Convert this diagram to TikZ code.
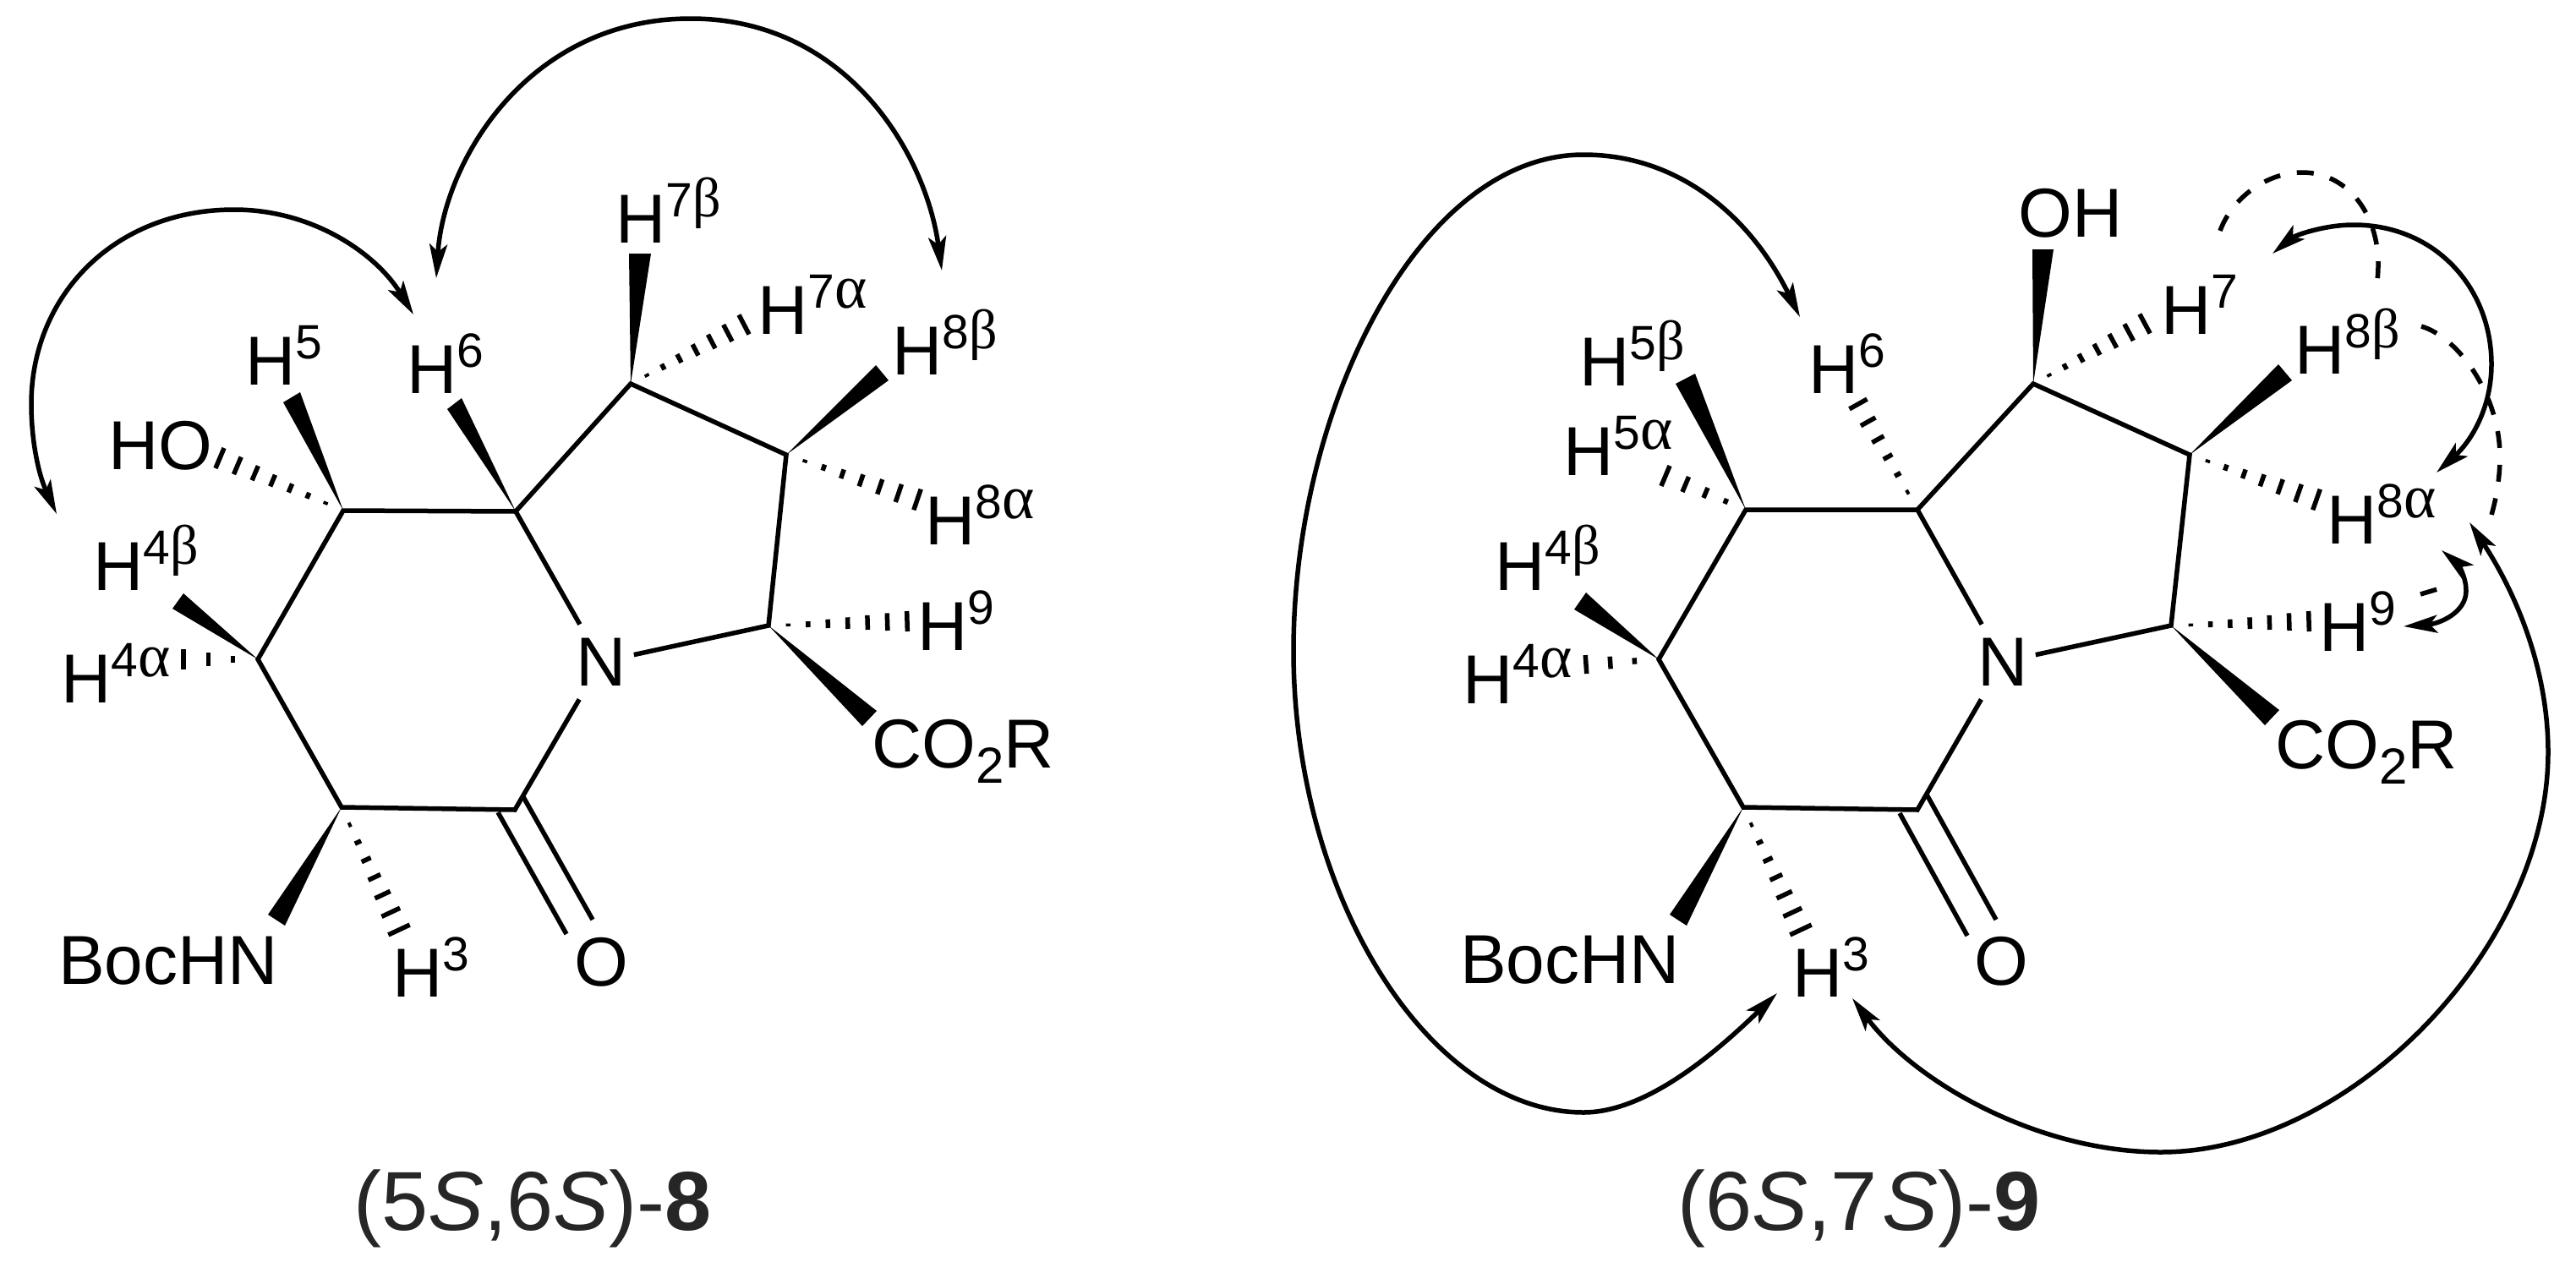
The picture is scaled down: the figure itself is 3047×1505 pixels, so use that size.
\documentclass[tikz,border=0pt]{standalone}
\usepackage{fontspec}
\setmainfont{Liberation Sans}
\newfontfamily\greekfont{Liberation Serif}
\usetikzlibrary{arrows.meta,calc}

% Подписи атомов
\newcommand{\Hsup}[1]{H\raisebox{31pt}{\fontsize{57}{57}\selectfont #1}}
\newcommand{\Hbeta}[1]{H\raisebox{31pt}{\fontsize{57}{57}\selectfont #1{\greekfont\fontsize{66}{66}\selectfont β}}}
\newcommand{\Halpha}[1]{H\raisebox{31pt}{\fontsize{57}{57}\selectfont #1{\greekfont\fontsize{73}{73}\selectfont α}}}
\newcommand{\COR}{CO\raisebox{-18pt}{\fontsize{60}{60}\selectfont 2}R}

% Клиновидная и штриховая связи
\newcommand{\wedgebond}[3]{\fill (#1) -- (#2) -- (#3) -- cycle;}
\newcommand{\hashbond}[4]{%
    \coordinate (hl) at ($(#2)!#3 pt!90:(#1)$);
    \coordinate (hr) at ($(#2)!#3 pt!-90:(#1)$);
    \foreach \i in {1,...,#4}{%
        \pgfmathsetmacro{\hpos}{\i/#4}
        \draw[hash] ($(#1)!\hpos!(hl)$) -- ($(#1)!\hpos!(hr)$);
    }}

\tikzset{
    bond/.style={line width=5.5pt},
    hash/.style={line width=5.5pt},
    lab/.style={inner sep=0pt,anchor=base west,font=\fontsize{82}{82}\selectfont},
    atomN/.style={inner xsep=9pt,inner ysep=16pt,font=\fontsize{82}{82}\selectfont},
    caption/.style={inner sep=0pt,anchor=base west,text=black!85,font=\fontsize{99}{99}\selectfont},
    noe/.style={line width=5.5pt,{Stealth[length=40pt,width=21pt,inset=9pt]}-{Stealth[length=40pt,width=21pt,inset=9pt]}},
    noedash/.style={line width=5.5pt,dash pattern=on 20pt off 20pt}
}

\begin{document}
\begin{tikzpicture}[x=1pt,y=-1pt]
    \useasboundingbox (0,0) rectangle (3047,1505);

    % Соединение 8
    \coordinate (A2) at (609,958);
    \coordinate (A3) at (404,955);
    \coordinate (A4) at (305,780);
    \coordinate (A5) at (406,604);
    \coordinate (A6) at (610,605);
    \coordinate (A7) at (746,454);
    \coordinate (A8) at (930,538);
    \coordinate (A9) at (909,740);
    \node[atomN] (NA) at (711,783) {N};

    \node[lab] (H7bA) at (728,287) {\Hbeta{7}};
    \node[lab] (H7aA) at (896,395) {\Halpha{7}};
    \node[lab] (H8bA) at (1055,443) {\Hbeta{8}};
    \node[lab] (H8aA) at (1094,644) {\Halpha{8}};
    \node[lab] (H5A) at (290,455) {\Hsup{5}};
    \node[lab] (H6A) at (481,465) {\Hsup{6}};
    \node[lab] (HOA) at (128,555) {HO};
    \node[lab] (H4bA) at (110,698) {\Hbeta{4}};
    \node[lab] (H4aA) at (72,831) {\Halpha{4}};
    \node[lab] (H9A) at (1085,769) {\Hsup{9}};
    \node[lab] (CORA) at (1031,908) {\COR};
    \node[lab] (BocA) at (69,1164) {BocHN};
    \node[lab] (H3A) at (464,1179) {\Hsup{3}};
    \node[lab] (OA) at (679,1166) {O};
    \node[caption] (capA) at (418,1455) {(5\textit{S},6\textit{S})-\textbf{8}};

    % Линии
    \draw[bond] (NA) -- (A2) -- (A3) -- (A4) -- (A5) -- (A6) -- (NA);
    \draw[bond] (A6) -- (A7) -- (A8) -- (A9) -- (NA);
    \coordinate (dA1) at (618,941);
    \coordinate (dA2) at (701,1088);
    \coordinate (dA3) at (589,961);
    \coordinate (dA4) at (670,1105);
    \draw[bond] (dA1) -- (dA2);
    \draw[bond] (dA3) -- (dA4);

    \coordinate (w1a) at (744,300);
    \coordinate (w1b) at (770,300);
    \wedgebond{A7}{w1a}{w1b}
    \coordinate (w2a) at (1036,432);
    \coordinate (w2b) at (1051,450);
    \wedgebond{A8}{w2a}{w2b}
    \coordinate (w3a) at (546,471);
    \coordinate (w3b) at (529,484);
    \wedgebond{A6}{w3a}{w3b}
    \coordinate (w4a) at (355,464);
    \coordinate (w4b) at (335,476);
    \wedgebond{A5}{w4a}{w4b}
    \coordinate (w5a) at (217,702);
    \coordinate (w5b) at (204,720);
    \wedgebond{A4}{w5a}{w5b}
    \coordinate (w6a) at (1037,841);
    \coordinate (w6b) at (1020,859);
    \wedgebond{A9}{w6a}{w6b}
    \coordinate (w7a) at (317,1082);
    \coordinate (w7b) at (337,1095);
    \wedgebond{A3}{w7a}{w7b}

    \coordinate (h1) at (880,384);
    \hashbond{A7}{h1}{13}{7}
    \coordinate (h2) at (1085,591);
    \hashbond{A8}{h2}{13}{7}
    \coordinate (h3) at (1073,735);
    \hashbond{A9}{h3}{12}{7}
    \coordinate (h4) at (260,542);
    \hashbond{A5}{h4}{13}{7}
    \coordinate (h5) at (217,780);
    \hashbond{A4}{h5}{12}{3}
    \coordinate (h6) at (472,1100);
    \hashbond{A3}{h6}{14}{7}

    % Стрелки
    \coordinate (a1s) at (67,608);
    \coordinate (a1e) at (489,372);
    \draw[noe] (a1s) .. controls (45,560) and (37,520) .. (37,478)
        .. controls (37,350) and (135,248) .. (277,248)
        .. controls (370,248) and (445,300) .. (a1e);
    \coordinate (a2s) at (516,329);
    \coordinate (a2e) at (1114,320);
    \draw[noe] (a2s) .. controls (525,190) and (625,22) .. (817,22)
        .. controls (1000,22) and (1095,180) .. (a2e);

    % Соединение 9
    \coordinate (B2) at (2268,958);
    \coordinate (B3) at (2062,955);
    \coordinate (B4) at (1962,780);
    \coordinate (B5) at (2065,603);
    \coordinate (B6) at (2268,603);
    \coordinate (B7) at (2405,454);
    \coordinate (B8) at (2590,538);
    \coordinate (B9) at (2568,740);
    \node[atomN] (NB) at (2369,783) {N};

    \node[lab] (OHB) at (2387,280) {OH};
    \node[lab] (H7B) at (2556,395) {\Hsup{7}};
    \node[lab] (H8bB) at (2714,442) {\Hbeta{8}};
    \node[lab] (H8aB) at (2752,643) {\Halpha{8}};
    \node[lab] (H9B) at (2743,770) {\Hsup{9}};
    \node[lab] (CORB) at (2691,909) {\COR};
    \node[lab] (BocB) at (1727,1163) {BocHN};
    \node[lab] (H3B) at (2120,1179) {\Hsup{3}};
    \node[lab] (OB) at (2335,1165) {O};
    \node[lab] (H5bB) at (1868,456) {\Hbeta{5}};
    \node[lab] (H5aB) at (1849,562) {\Halpha{5}};
    \node[lab] (H6B) at (2139,465) {\Hsup{6}};
    \node[lab] (H4bB) at (1768,698) {\Hbeta{4}};
    \node[lab] (H4aB) at (1730,832) {\Halpha{4}};
    \node[caption] (capB) at (1984,1455) {(6\textit{S},7\kern6pt\textit{S})-\textbf{9}};

    % Линии
    \draw[bond] (NB) -- (B2) -- (B3) -- (B4) -- (B5) -- (B6) -- (NB);
    \draw[bond] (B6) -- (B7) -- (B8) -- (B9) -- (NB);
    \coordinate (dB1) at (2279,940);
    \coordinate (dB2) at (2361,1088);
    \coordinate (dB3) at (2247,962);
    \coordinate (dB4) at (2327,1107);
    \draw[bond] (dB1) -- (dB2);
    \draw[bond] (dB3) -- (dB4);

    \coordinate (v1a) at (2404,295);
    \coordinate (v1b) at (2429,295);
    \wedgebond{B7}{v1a}{v1b}
    \coordinate (v2a) at (2695,431);
    \coordinate (v2b) at (2711,450);
    \wedgebond{B8}{v2a}{v2b}
    \coordinate (v3a) at (2696,840);
    \coordinate (v3b) at (2679,858);
    \wedgebond{B9}{v3a}{v3b}
    \coordinate (v4a) at (2005,442);
    \coordinate (v4b) at (1982,454);
    \wedgebond{B5}{v4a}{v4b}
    \coordinate (v5a) at (1876,701);
    \coordinate (v5b) at (1862,721);
    \wedgebond{B4}{v5a}{v5b}
    \coordinate (v6a) at (1975,1082);
    \coordinate (v6b) at (1995,1095);
    \wedgebond{B3}{v6a}{v6b}

    \coordinate (k1) at (2537,383);
    \hashbond{B7}{k1}{13}{7}
    \coordinate (k2) at (2740,591);
    \hashbond{B8}{k2}{13}{7}
    \coordinate (k3) at (2731,735);
    \hashbond{B9}{k3}{12}{7}
    \coordinate (k4) at (2198,478);
    \hashbond{B6}{k4}{12}{6}
    \coordinate (k5) at (1970,563);
    \hashbond{B5}{k5}{13}{4}
    \coordinate (k6) at (1876,786);
    \hashbond{B4}{k6}{11}{3}
    \coordinate (k7) at (2130,1100);
    \hashbond{B3}{k7}{14}{7}

    % Стрелки
    \coordinate (b1s) at (2102,1175);
    \coordinate (b1e) at (2129,375);
    \draw[noe] (b1s) .. controls (2035,1240) and (1950,1316) .. (1873,1316)
        .. controls (1690,1316) and (1530,1060) .. (1530,770)
        .. controls (1530,480) and (1680,183) .. (1873,183)
        .. controls (1985,183) and (2070,255) .. (b1e);
    \coordinate (b2s) at (2191,1181);
    \coordinate (b2e) at (2921,618);
    \draw[noe] (b2s) .. controls (2265,1280) and (2410,1363) .. (2556,1363)
        .. controls (2780,1363) and (3014,1120) .. (3014,890)
        .. controls (3014,790) and (2975,700) .. (b2e);
    \coordinate (b3s) at (2688,300);
    \coordinate (b3e) at (2882,559);
    \draw[noe] (b3s) .. controls (2715,278) and (2750,266) .. (2784,266)
        .. controls (2880,266) and (2947,340) .. (2947,431)
        .. controls (2947,480) and (2925,520) .. (b3e);
    \coordinate (b4s) at (2843,741);
    \coordinate (b4e) at (2888,651);
    \draw[noe] (b4s) .. controls (2885,738) and (2917,725) .. (2917,699)
        .. controls (2917,680) and (2905,665) .. (b4e);

    % Пунктир
    \coordinate (c1s) at (2626,273);
    \coordinate (c1e) at (2812,331);
    \draw[noedash] (c1s) .. controls (2640,235) and (2680,204) .. (2723,204)
        .. controls (2780,204) and (2820,260) .. (c1e);
    \coordinate (c2s) at (2864,386);
    \coordinate (c2e) at (2945,616);
    \draw[noedash] (c2s) .. controls (2910,400) and (2957,470) .. (2957,540)
        .. controls (2957,565) and (2953,590) .. (c2e);
    \coordinate (c3s) at (2863,703);
    \coordinate (c3e) at (2883,697);
    \draw[noedash] (c3s) -- (c3e);
\end{tikzpicture}
\end{document}
